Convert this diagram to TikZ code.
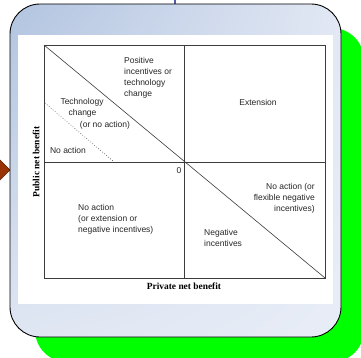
\documentclass[tikz,border=0pt]{standalone}
\usepackage{fontspec}
\usetikzlibrary{shadings}
\setmainfont{Liberation Sans}
\newfontfamily\serifbold{Liberation Serif}
\definecolor{grn}{HTML}{00FF00}
\definecolor{brn}{HTML}{9A3304}
\definecolor{brndark}{HTML}{5A1E02}
\definecolor{txt}{HTML}{262626}
\definecolor{frm}{HTML}{3C3C3C}
\definecolor{topline}{HTML}{5858A8}
\definecolor{shUL}{HTML}{B2C4E0}
\definecolor{shUR}{HTML}{E2E8F4}
\definecolor{shLL}{HTML}{E0E7F3}
\definecolor{shLR}{HTML}{E8EDF7}
\begin{document}
\begin{tikzpicture}[x=1pt,y=-1pt,
  lbl/.style={inner sep=0pt,text=txt,font=\fontsize{8.5}{11}\selectfont},
  axlbl/.style={inner sep=0pt,text=black,font=\serifbold\bfseries\fontsize{9.4}{11}\selectfont},
  frameline/.style={draw=frm,line width=0.75pt},
  diagline/.style={draw=frm,line width=0.6pt}]
\useasboundingbox (0,0) rectangle (361,358);
% green backdrop
\begin{scope}
\clip (0,0) rectangle (361,358);
\fill[grn,rounded corners=32pt] (35,28) rectangle (364,362);
% brown diamond pointer
\filldraw[fill=brn,draw=brndark,line width=0.6pt] (10,170) -- (-7,153) -- (-24,170) -- (-7,187) -- cycle;
\end{scope}
% top connector
\coordinate (ctop) at (175,0);
\coordinate (cbox) at (175,4);
\draw[topline,line width=1.4pt] (ctop) -- (cbox);
% main rounded box with gradient
\begin{scope}
\clip[rounded corners=30pt] (10,4) rectangle (341,337);
\shade[upper left=shUL, upper right=shUR, lower left=shLL, lower right=shLR] (10,4) rectangle (341,337);
\end{scope}
\draw[black,line width=0.9pt,rounded corners=30pt] (10,4) rectangle (341,337);
% white picture area
\fill[white] (18,35) rectangle (333,304);
% plot frame
\coordinate (tl) at (44,45);
\coordinate (br) at (325,278);
\coordinate (o) at (184,162);
\draw[frameline] (tl) rectangle (br);
\coordinate (vt) at (184,45);
\coordinate (vb) at (184,278);
\coordinate (hl) at (44,162);
\coordinate (hr) at (325,162);
\draw[frameline] (vt) -- (vb);
\draw[frameline] (hl) -- (hr);
\draw[diagline] (tl) -- (br);
\coordinate (d1) at (45,103);
\coordinate (d2) at (113,161);
\draw[diagline,dotted] (d1) -- (d2);
% labels
\node[lbl,anchor=west,align=left] (pos) at (124,77.5) {Positive\\incentives or\\technology\\change};
\node[lbl] (tech1) at (82,102) {Technology};
\node[lbl] (tech2) at (82.5,113.5) {change};
\node[lbl] (tech3) at (105,125) {(or no action)};
\node[lbl] (noact) at (68,150) {No action};
\node[lbl] (ext) at (258,102) {Extension};
\node[lbl] (zero) at (179,171) {0};
\node[lbl,anchor=east,align=right] (flex) at (315,198.5) {No action (or\\flexible negative\\incentives)};
\node[lbl,anchor=west,align=left] (noext) at (78,219) {No action\\(or extension or\\negative incentives)};
\node[lbl,anchor=west,align=left] (neg) at (204,237.5) {Negative\\incentives};
\node[axlbl] (xlab) at (184,286) {Private net benefit};
\node[axlbl,rotate=90] (ylab) at (36,162) {Public net benefit};
\end{tikzpicture}
\end{document}
